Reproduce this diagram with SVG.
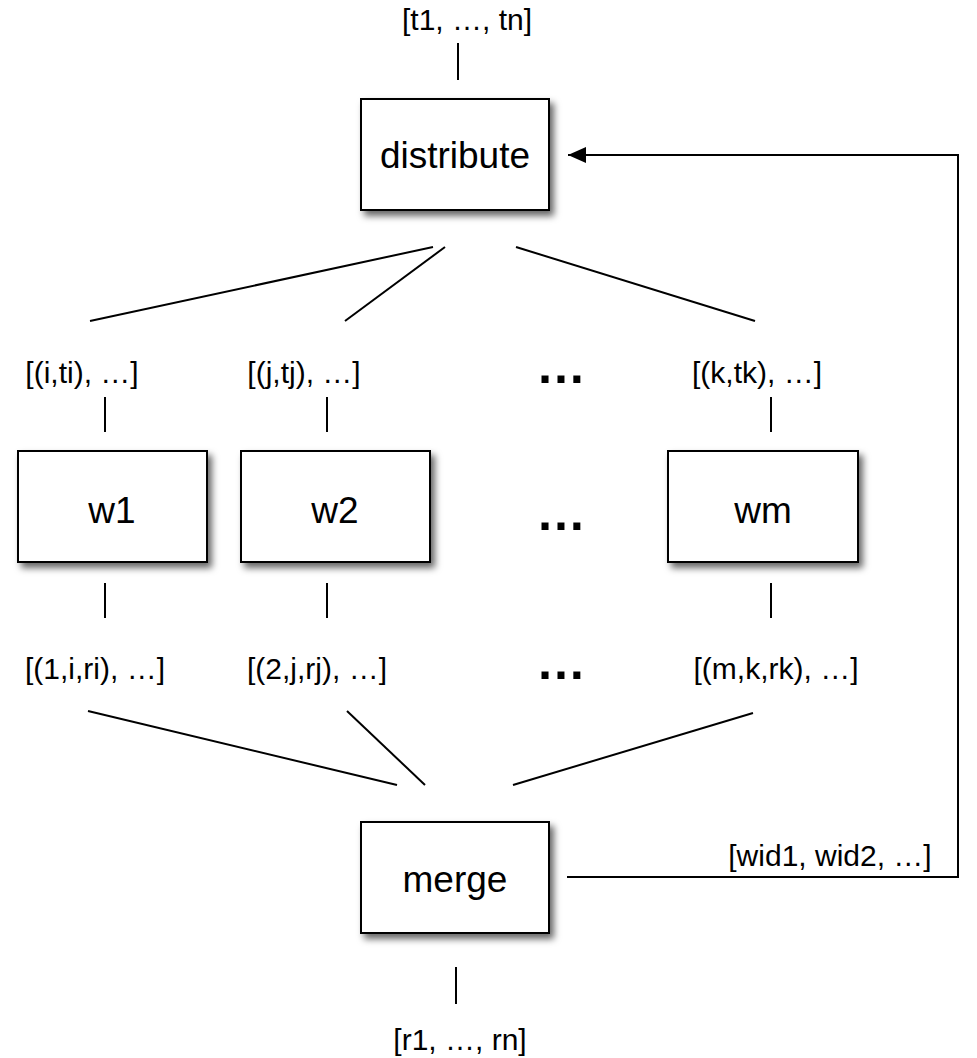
<svg xmlns="http://www.w3.org/2000/svg" width="977" height="1058" viewBox="0 0 977 1058">
<defs>
<filter id="sh" x="-20%" y="-20%" width="150%" height="150%">
<feDropShadow dx="4" dy="5" stdDeviation="3.5" flood-color="#000" flood-opacity="0.6"/>
</filter>
<marker id="arr" markerWidth="18" markerHeight="16" refX="18" refY="8" orient="auto" markerUnits="userSpaceOnUse">
<path d="M0,0 L18,8 L0,16 Z" fill="#000"/>
</marker>
</defs>
<style>
.box{fill:#fff;stroke:#000;stroke-width:2;filter:url(#sh)}
.big{font-family:"Liberation Sans",Arial,sans-serif;font-size:37px;text-anchor:middle;fill:#000}
.lbl{font-family:"Liberation Sans",Arial,sans-serif;font-size:30px;text-anchor:middle;fill:#000}
.dots{font-family:"Liberation Sans",Arial,sans-serif;font-size:50px;text-anchor:middle;fill:#000;font-weight:bold}
.ln{stroke:#000;stroke-width:2;fill:none}
</style>
<rect width="977" height="1058" fill="#fff"/>
<g id="connectors">
<line class="ln" x1="458" y1="43" x2="458" y2="80"/>
<line class="ln" x1="433" y1="247" x2="90" y2="321"/>
<line class="ln" x1="445" y1="247" x2="345" y2="321"/>
<line class="ln" x1="516" y1="247" x2="755" y2="321"/>
<line class="ln" x1="105" y1="397" x2="105" y2="432"/>
<line class="ln" x1="327" y1="397" x2="327" y2="432"/>
<line class="ln" x1="771" y1="397" x2="771" y2="432"/>
<line class="ln" x1="105" y1="583" x2="105" y2="618"/>
<line class="ln" x1="327" y1="583" x2="327" y2="618"/>
<line class="ln" x1="771" y1="583" x2="771" y2="618"/>
<line class="ln" x1="88" y1="711" x2="397" y2="785"/>
<line class="ln" x1="347" y1="711" x2="425" y2="785"/>
<line class="ln" x1="753" y1="713" x2="513" y2="785"/>
<line class="ln" x1="456" y1="967" x2="456" y2="1004"/>
<polyline class="ln" points="567,877 958,877 958,155 568,155" marker-end="url(#arr)"/>
</g>
<g id="labels">
<text class="lbl" x="467" y="30">[t1, …, tn]</text>
<text class="lbl" x="82" y="383">[(i,ti), …]</text>
<text class="lbl" x="304" y="383">[(j,tj), …]</text>
<text class="lbl" x="757" y="383">[(k,tk), …]</text>
<text class="dots" x="561" y="383">…</text>
<text class="dots" x="561" y="530">…</text>
<text class="dots" x="561" y="679">…</text>
<text class="lbl" x="95" y="679">[(1,i,ri), …]</text>
<text class="lbl" x="317" y="679">[(2,j,rj), …]</text>
<text class="lbl" x="776" y="679">[(m,k,rk), …]</text>
<text class="lbl" x="830" y="866">[wid1, wid2, …]</text>
<text class="lbl" x="460" y="1050">[r1, …, rn]</text>
</g>
<g id="distribute">
<rect class="box" x="361" y="99" width="188" height="111"/>
<text class="big" x="455" y="168">distribute</text>
</g>
<g id="w1">
<rect class="box" x="18" y="451" width="189" height="111"/>
<text class="big" x="112" y="523">w1</text>
</g>
<g id="w2">
<rect class="box" x="241" y="451" width="189" height="111"/>
<text class="big" x="335" y="523">w2</text>
</g>
<g id="wm">
<rect class="box" x="668" y="451" width="190" height="111"/>
<text class="big" x="763" y="523">wm</text>
</g>
<g id="merge">
<rect class="box" x="361" y="822" width="188" height="111"/>
<text class="big" x="455" y="892">merge</text>
</g>
</svg>
